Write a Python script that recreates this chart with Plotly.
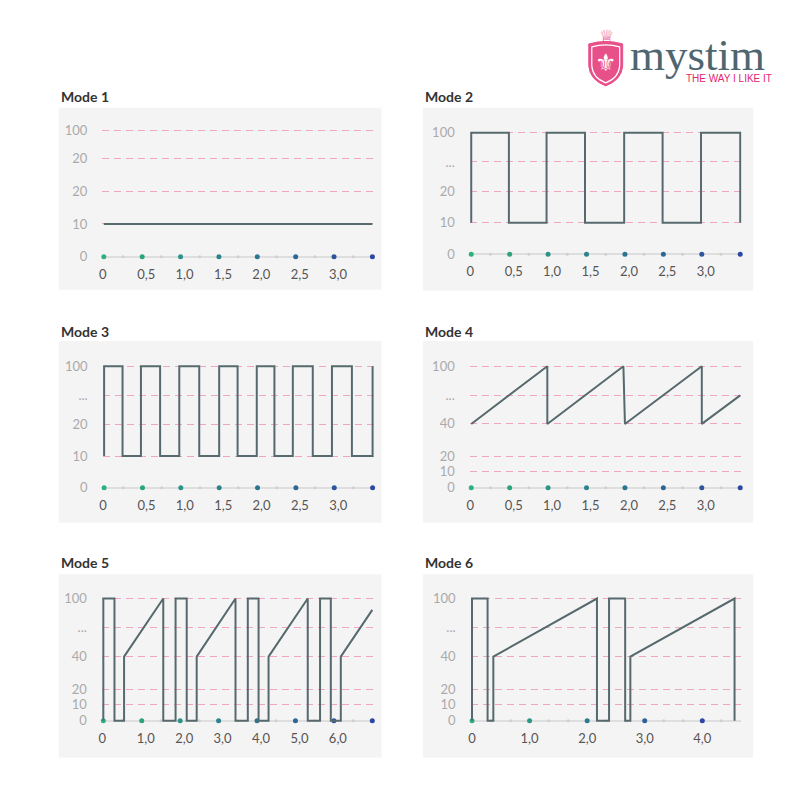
import plotly.graph_objects as go

# ---------------- data ----------------
titles = ["Mode 1", "Mode 2", "Mode 3", "Mode 4", "Mode 5", "Mode 6"]

# y axis: tick positions (display scale) and their labels
mode1_ytickvals = [0, 26, 52, 78, 100]
mode1_yticktext = ["0", "10", "20", "20", "100"]
mode23_ytickvals = [0, 26, 52, 76, 100]
mode23_yticktext = ["0", "10", "20", "...", "100"]
mode456_ytickvals = [0, 13.5, 26, 52.5, 76, 100]
mode456_yticktext = ["0", "10", "20", "40", "...", "100"]

# x axis tick labels
half_tickvals = [0, 0.5, 1.0, 1.5, 2.0, 2.5, 3.0]
half_ticktext = ["0\u00a0\u00a0\u00a0", "0,5", "1,0", "1,5", "2,0", "2,5", "3,0"]
mode5_tickvals = [0, 1, 2, 3, 4, 5, 6]
mode5_ticktext = ["0\u00a0\u00a0\u00a0", "1,0", "2,0", "3,0", "4,0", "5,0", "6,0"]
mode6_tickvals = [0, 1, 2, 3, 4]
mode6_ticktext = ["0", "1,0", "2,0", "3,0", "4,0"]

# x axis dot markers
half_dots = [0, 0.5, 1.0, 1.5, 2.0, 2.5, 3.0, 3.5]
half_minor = [0.25, 0.75, 1.25, 1.75, 2.25, 2.75, 3.25]
mode5_dots = [0, 1, 2, 3, 4, 5, 6, 7]
mode5_minor = [0.5, 1.5, 2.5, 3.5, 4.5, 5.5, 6.5]
mode6_dots = [0, 1, 2, 3, 4]
mode6_minor = [0.33, 0.67, 1.33, 1.67, 2.33, 2.67, 3.33, 3.67, 4.33]

# axis extents
axis_end = [3.5, 3.5, 3.5, 3.5, 7.0, 4.65]

# waveforms (x in time, y in display scale)
mode1_x = [0, 3.5]
mode1_y = [26, 26]

mode2_x = [0, 0, 0.49, 0.49, 0.98, 0.98, 1.48, 1.48, 1.99, 1.99, 2.49, 2.49, 2.99, 2.99, 3.5, 3.5]
mode2_y = [26, 100, 100, 26, 26, 100, 100, 26, 26, 100, 100, 26, 26, 100, 100, 26]

mode3_x = [0, 0, 0.24, 0.24, 0.48, 0.48, 0.73, 0.73, 0.98, 0.98, 1.24, 1.24, 1.5, 1.5,
           1.74, 1.74, 1.99, 1.99, 2.22, 2.22, 2.46, 2.46, 2.72, 2.72, 2.97, 2.97,
           3.23, 3.23, 3.5, 3.5]
mode3_y = [26, 100, 100, 26, 26, 100, 100, 26, 26, 100, 100, 26, 26, 100,
           100, 26, 26, 100, 100, 26, 26, 100, 100, 26, 26, 100,
           100, 26, 26, 100]

mode4_x = [0, 0.99, 0.99, 1.98, 2.0, 3.0, 3.0, 3.5]
mode4_y = [52.5, 100, 52.5, 100, 52.5, 100, 52.5, 76]

mode5_x = [0, 0, 0.29, 0.29, 0.54, 0.54, 1.56, 1.56, 1.88, 1.88, 2.17, 2.17, 2.43, 2.43,
           3.44, 3.44, 3.76, 3.76, 4.04, 4.04, 4.30, 4.30, 5.32, 5.32, 5.64, 5.64,
           5.92, 5.92, 6.18, 6.18, 7.0]
mode5_y = [0, 100, 100, 0, 0, 52.5, 100, 0, 0, 100, 100, 0, 0, 52.5,
           100, 0, 0, 100, 100, 0, 0, 52.5, 100, 0, 0, 100,
           100, 0, 0, 52.5, 90.7]

mode6_x = [0, 0, 0.27, 0.27, 0.37, 0.37, 2.17, 2.17, 2.38, 2.38, 2.66, 2.66, 2.75, 2.75, 4.56, 4.56]
mode6_y = [0, 100, 100, 0, 0, 52.5, 100, 0, 0, 100, 100, 0, 0, 52.5, 100, 0]

# ---------------- layout config ----------------
W = H = 800
PANEL_BG = "#f5f4f4"
LINE_C = "#56696d"
GRID_C = "#f0a6c1"

# per panel: panel rect (x0,x1,y0,y1) px ; x pixel of 0 and axis_end ; y pixel of 0 and 100
panels = [
    dict(rect=(56, 380, 108, 290), px=(101.2, 370.8), py=(257, 131)),
    dict(rect=(421.5, 753, 108, 291), px=(470, 740), py=(254.5, 133)),
    dict(rect=(56, 380, 341.5, 523.5), px=(101.5, 371), py=(488.3, 366.7)),
    dict(rect=(421.5, 753, 341.5, 523.5), px=(470, 740), py=(488.3, 366.7)),
    dict(rect=(56, 380, 575, 758.5), px=(100.7, 370.7), py=(721.7, 599.3)),
    dict(rect=(421.5, 753, 575, 758.5), px=(470.8, 739.5), py=(721.7, 599.3)),
]
title_pos = [(56, 97), (421.5, 97), (56, 331.5), (421.5, 331.5), (56, 563), (421.5, 563)]

yticks = [(mode1_ytickvals, mode1_yticktext), (mode23_ytickvals, mode23_yticktext),
          (mode23_ytickvals, mode23_yticktext), (mode456_ytickvals, mode456_yticktext),
          (mode456_ytickvals, mode456_yticktext), (mode456_ytickvals, mode456_yticktext)]
xticks = [(half_tickvals, half_ticktext)] * 4 + [(mode5_tickvals, mode5_ticktext),
                                                 (mode6_tickvals, mode6_ticktext)]
dots = [(half_dots, half_minor)] * 4 + [(mode5_dots, mode5_minor), (mode6_dots, mode6_minor)]
waves = [(mode1_x, mode1_y), (mode2_x, mode2_y), (mode3_x, mode3_y),
         (mode4_x, mode4_y), (mode5_x, mode5_y), (mode6_x, mode6_y)]


def fx(x):
    return x / W


def fy(y):
    return 1 - y / H


def lerp_color(c1, c2, t):
    a = [int(c1[i:i + 2], 16) for i in (1, 3, 5)]
    b = [int(c2[i:i + 2], 16) for i in (1, 3, 5)]
    return "#%02x%02x%02x" % tuple(round(a[k] + (b[k] - a[k]) * t) for k in range(3))


fig = go.Figure()
shapes = []
annotations = []
layout_axes = {}

for i in range(6):
    n = i + 1
    xs = "" if n == 1 else str(n)
    xref, yref = "x" + xs, "y" + xs
    p = panels[i]
    # panel background
    x0, x1, y0, y1 = p["rect"]
    shapes.append(dict(type="rect", xref="paper", yref="paper", x0=fx(x0), x1=fx(x1),
                       y0=fy(y1), y1=fy(y0), fillcolor=PANEL_BG, line=dict(width=0),
                       layer="below"))
    # x axis geometry
    xe = axis_end[i]
    sx = (p["px"][1] - p["px"][0]) / xe
    pad = 1.5
    xr = [-pad / sx, xe + pad / sx]
    xdom = [fx(p["px"][0] - pad), fx(p["px"][1] + pad)]
    # y axis geometry
    sy = (p["py"][0] - p["py"][1]) / 100.0
    ylo, yhi = -5, 108
    yr = [ylo, yhi]
    ydom = [fy(p["py"][0] - ylo * sy), fy(p["py"][1] - (yhi - 100) * sy)]

    tv, tt = xticks[i]
    layout_axes["xaxis" + xs] = dict(
        domain=xdom, range=xr, anchor=yref, showgrid=False, zeroline=False,
        showline=False, tickvals=tv, ticktext=tt, ticks="",
        tickfont=dict(family="Lato", size=13, color="#555555"),
        ticklabelstandoff=2, ticklabelshift=(0 if n == 6 else 4), fixedrange=True)
    yv, yt = yticks[i]
    layout_axes["yaxis" + xs] = dict(
        domain=ydom, range=yr, anchor=xref, showgrid=True, gridcolor=GRID_C,
        griddash="7px,5px", gridwidth=1, zeroline=True, zerolinecolor="#dedede",
        zerolinewidth=1.5, showline=False, tickvals=yv, ticktext=yt, ticks="",
        tickfont=dict(family="Lato", size=13, color="#aaaaaa"),
        ticklabelstandoff=14, fixedrange=True)

    # baseline dots
    major, minor = dots[i]
    fig.add_trace(go.Scatter(x=minor, y=[0] * len(minor), mode="markers",
                             marker=dict(size=3, color="#cfcfcf"), xaxis=xref, yaxis=yref,
                             cliponaxis=False, hoverinfo="skip", showlegend=False))
    cols = [lerp_color("#2bb27c", "#2c47a1", k / (len(major) - 1)) for k in range(len(major))]
    fig.add_trace(go.Scatter(x=major, y=[0] * len(major), mode="markers",
                             marker=dict(size=5, color=cols), xaxis=xref, yaxis=yref,
                             cliponaxis=False, hoverinfo="skip", showlegend=False))
    # waveform
    wx, wy = waves[i]
    fig.add_trace(go.Scatter(x=wx, y=wy, mode="lines",
                             line=dict(color=LINE_C, width=2), xaxis=xref, yaxis=yref,
                             cliponaxis=False, showlegend=False))
    # title
    tx, ty = title_pos[i]
    annotations.append(dict(text="<b>" + titles[i] + "</b>", x=fx(tx), y=fy(ty),
                            xref="paper", yref="paper", xanchor="left", yanchor="middle",
                            showarrow=False, font=dict(family="Lato", size=14, color="#333333")))

# ---------------- logo ----------------
def path(points):
    s = ""
    for cmd, pts in points:
        s += cmd + " " + " ".join("%f,%f" % (fx(a), fy(b)) for a, b in pts) + " "
    return s + "Z"


shield = path([("M", [(588, 44)]), ("Q", [(605, 39), (622, 44)]), ("L", [(622, 66)]),
               ("Q", [(621, 80), (605, 86)]), ("Q", [(589, 80), (588, 66)])])
shield_in = path([("M", [(591, 47)]), ("Q", [(605, 43), (619, 47)]), ("L", [(619, 66)]),
                  ("Q", [(618, 78), (605, 83)]), ("Q", [(592, 78), (591, 66)])])
shapes.append(dict(type="path", path=shield, xref="paper", yref="paper",
                   fillcolor="#e8508a", line=dict(color="#e8508a", width=1)))
shapes.append(dict(type="path", path=shield_in, xref="paper", yref="paper",
                   fillcolor="rgba(0,0,0,0)", line=dict(color="#ffffff", width=1.2)))
annotations.append(dict(text="\u269c", x=fx(605), y=fy(63), xref="paper", yref="paper",
                        showarrow=False, xanchor="center", yanchor="middle",
                        font=dict(family="DejaVu Sans", size=24, color="#ffffff")))
annotations.append(dict(text="\u2655", x=fx(606), y=fy(36), xref="paper", yref="paper",
                        showarrow=False, xanchor="center", yanchor="middle",
                        font=dict(family="DejaVu Sans", size=17, color="#e8508a")))
annotations.append(dict(text="mystim", x=fx(627), y=fy(55), xref="paper", yref="paper",
                        showarrow=False, xanchor="left", yanchor="middle",
                        font=dict(family="Liberation Serif", size=45, color="#4e6670")))
annotations.append(dict(text="THE WAY I LIKE IT", x=fx(684), y=fy(79), xref="paper",
                        yref="paper", showarrow=False, xanchor="left", yanchor="middle",
                        font=dict(family="Liberation Sans", size=10, color="#e2236f")))

fig.update_layout(width=W, height=H, margin=dict(l=0, r=0, t=0, b=0),
                  paper_bgcolor="#ffffff", plot_bgcolor=PANEL_BG, shapes=shapes,
                  annotations=annotations, showlegend=False, **layout_axes)

fig.write_html("out.html")
